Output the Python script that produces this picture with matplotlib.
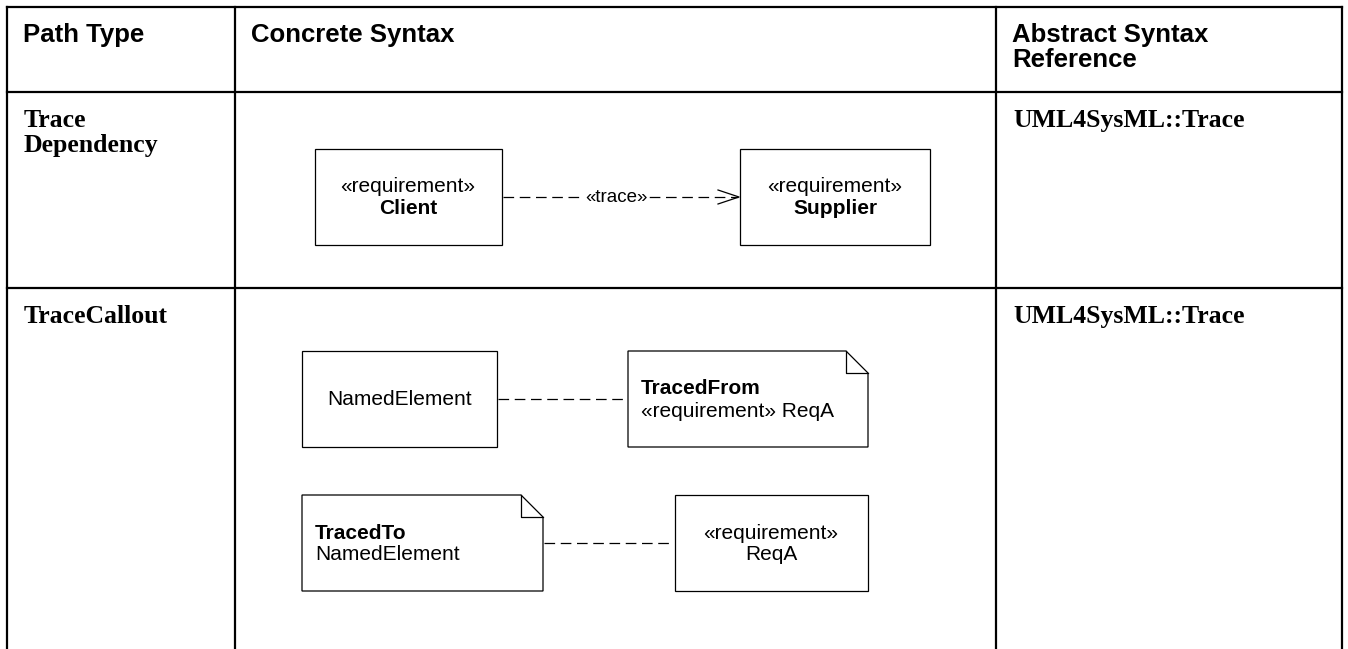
import matplotlib
matplotlib.use('Agg')
import matplotlib.pyplot as plt
from matplotlib.patches import Polygon

# table content
headers = ['Path Type', 'Concrete Syntax', 'Abstract Syntax\nReference']
path_types = ['Trace\nDependency', 'TraceCallout']
references = ['UML4SysML::Trace', 'UML4SysML::Trace']

# table grid (pixels)
col_x = [7, 235, 996, 1342]
row_y = [7, 92, 288, 649]

SANS = 'Liberation Sans'
SERIF = 'Liberation Serif'

fig = plt.figure(figsize=(13.48, 6.49), dpi=100)
ax = fig.add_axes([0, 0, 1, 1])
ax.set_xlim(0, 1348)
ax.set_ylim(649, 0)
ax.axis('off')

# grid lines
lw = 1.6
for y in row_y[:3]:
    ax.plot([col_x[0], col_x[-1]], [y, y], color='black', lw=lw)
for x in col_x:
    ax.plot([x, x], [row_y[0], row_y[-1]], color='black', lw=lw)


def cell_text(x, y0, text, family, step):
    # one call per line so each line sits on its own baseline
    for k, line in enumerate(text.split('\n')):
        ax.text(x, y0 + k * step, line, fontsize=18.5, fontweight='bold', family=family,
                va='baseline', ha='left')


# header
for i, h in enumerate(headers):
    cell_text(col_x[i] + 16, 42, h, SANS, 25)

# rows
for r in range(2):
    cell_text(col_x[0] + 17, row_y[r + 1] + 35, path_types[r], SERIF, 25)
    cell_text(col_x[2] + 17, row_y[r + 1] + 35, references[r], SERIF, 25)


def box(x0, y0, x1, y1, fold=0):
    if fold:
        pts = [(x0, y0), (x1 - fold, y0), (x1, y0 + fold), (x1, y1), (x0, y1)]
        ax.add_patch(Polygon(pts, closed=True, fill=True, fc='white', ec='black', lw=0.9))
        ax.plot([x1 - fold, x1 - fold, x1], [y0, y0 + fold, y0 + fold], color='black', lw=0.9)
    else:
        pts = [(x0, y0), (x1, y0), (x1, y1), (x0, y1)]
        ax.add_patch(Polygon(pts, closed=True, fill=True, fc='white', ec='black', lw=0.9))


def dashed(x0, x1, y):
    ax.plot([x0, x1], [y, y], color='black', lw=0.9, dashes=(8.5, 4.5))


fs = 15
kw = dict(fontsize=fs, family=SANS, va='baseline')
# Trace Dependency
box(315, 149, 502, 245)
ax.text(408, 192, '«requirement»', ha='center', **kw)
ax.text(408, 214, 'Client', fontweight='bold', ha='center', **kw)
box(740, 149, 930, 245)
ax.text(835, 192, '«requirement»', ha='center', **kw)
ax.text(835, 214, 'Supplier', fontweight='bold', ha='center', **kw)
dashed(503, 738, 197)
ax.plot([718, 739, 718], [190, 197, 204], color='black', lw=0.9)
ax.text(616, 197, '«trace»', fontsize=13.5, family=SANS, ha='center', va='center',
        bbox=dict(fc='white', ec='none', pad=0.3))

# TraceCallout
box(302, 351, 497, 447)
ax.text(400, 405, 'NamedElement', ha='center', **kw)
box(628, 351, 868, 447, fold=22)
ax.text(641, 394, 'TracedFrom', fontweight='bold', ha='left', **kw)
ax.text(641, 417, '«requirement» ReqA', ha='left', **kw)
dashed(498, 627, 399)

box(302, 495, 543, 591, fold=22)
ax.text(315, 539, 'TracedTo', fontweight='bold', ha='left', **kw)
ax.text(315, 560, 'NamedElement', ha='left', **kw)
box(675, 495, 868, 591)
ax.text(771, 539, '«requirement»', ha='center', **kw)
ax.text(771, 560, 'ReqA', ha='center', **kw)
dashed(544, 674, 543)

fig.savefig('out.png', dpi=100)
